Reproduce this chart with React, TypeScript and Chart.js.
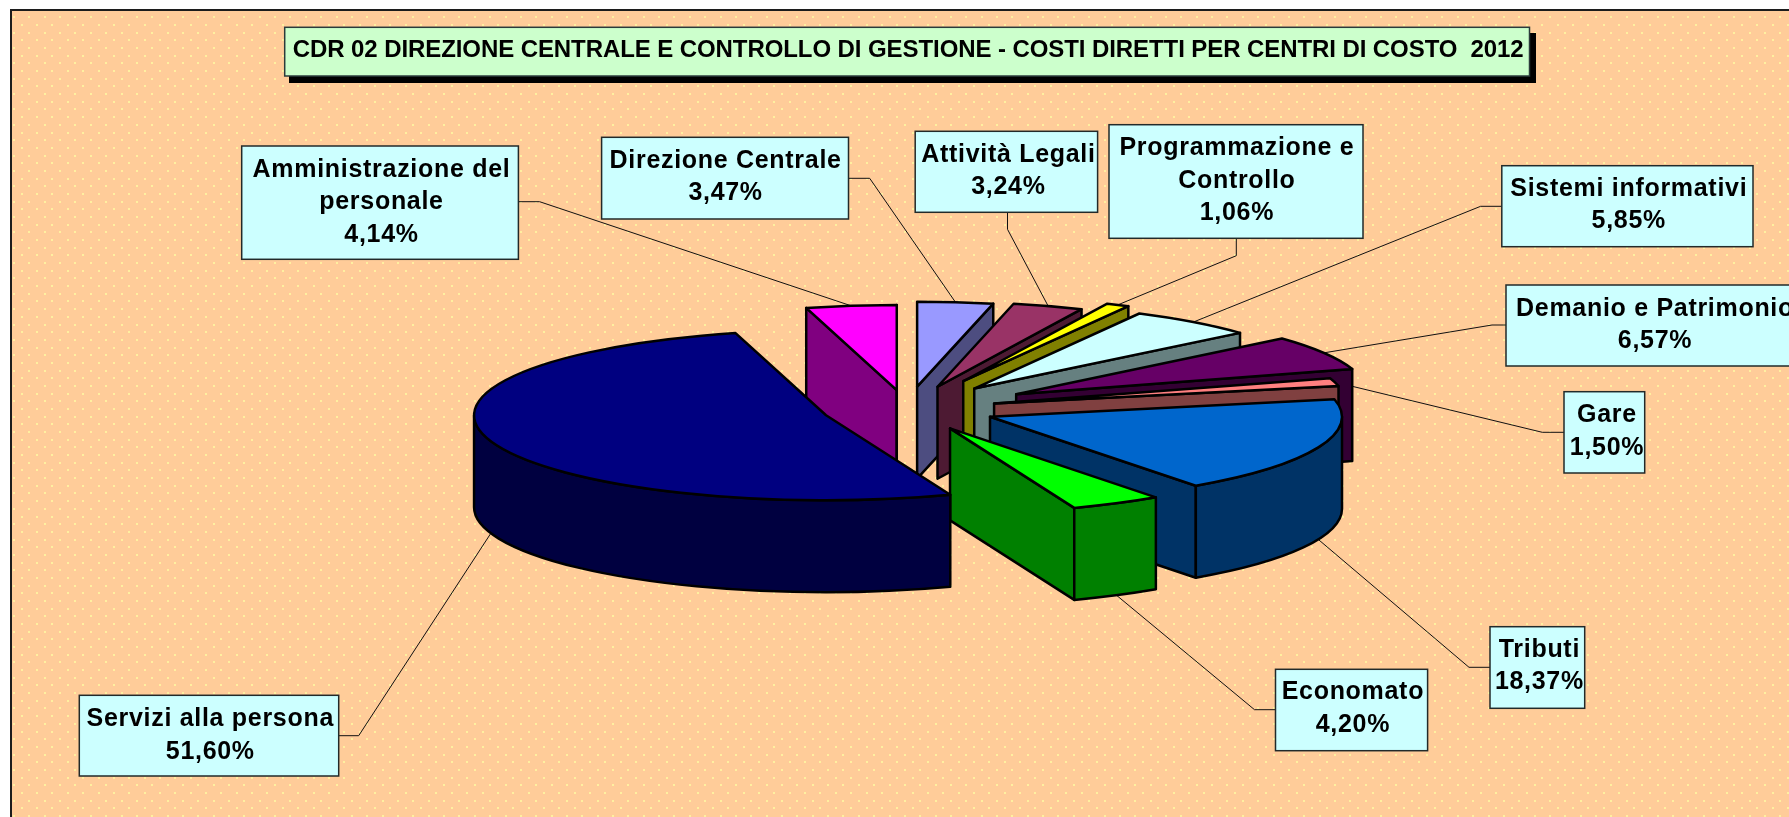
import React, { useEffect, useRef } from "react";
import { Chart, registerables } from "chart.js";

Chart.register(...registerables);

const chartTitle = "CDR 02 DIREZIONE CENTRALE E CONTROLLO DI GESTIONE - COSTI DIRETTI PER CENTRI DI COSTO  2012";
const categories = [
  "Amministrazione del\npersonale",
  "Direzione Centrale",
  "Attività Legali",
  "Programmazione e\nControllo",
  "Sistemi informativi",
  "Demanio e Patrimonio",
  "Gare",
  "Tributi",
  "Economato",
  "Servizi alla persona",
];
const shares = [4.14, 3.47, 3.24, 1.06, 5.85, 6.57, 1.5, 18.37, 4.2, 51.6];
const topColors = ["#FF00FF", "#9999FF", "#993366", "#FFFF00", "#CCFFFF", "#660066", "#FF8080", "#0066CC", "#00FF00", "#000080"];
const wallColors = ["#800080", "#4D4D80", "#4D1A33", "#808000", "#668080", "#330033", "#804040", "#003366", "#008000", "#000040"];
const explode = [79, 93, 97, 128, 108, 125, 90, 89, 91, 85];

const RADIUS = 352;
const TILT = 0.2415;
const DEPTH = 92;
const FONT = 'bold 25px "Liberation Sans", Arial, sans-serif';
const LINE_GAP = 32.6;

// label boxes: left, top, right, bottom, text centre, first baseline, elbow x, elbow y, attach x, attach y
const labelBoxes = [
  { l: 241.7, t: 146, r: 518.4, b: 259.3, cx: 381.5, base: 176.7, ex: 539.6, ey: 201.7, ax: 518.4, ay: 201.7 },
  { l: 601.6, t: 137.3, r: 848.5, b: 219, cx: 725.6, base: 167.7, ex: 869.7, ey: 178.3, ax: 848.5, ay: 178.3 },
  { l: 915.2, t: 131.3, r: 1097.6, b: 212.3, cx: 1008.4, base: 161.7, ex: 1007.5, ey: 229.3, ax: 1007.5, ay: 212.3 },
  { l: 1109, t: 124.7, r: 1363, b: 238.3, cx: 1236.9, base: 155, ex: 1236.3, ey: 255.7, ax: 1236.3, ay: 238.3 },
  { l: 1501.8, t: 165.7, r: 1753, b: 246.7, cx: 1628.8, base: 195.7, ex: 1480.6, ey: 206.3, ax: 1501.8, ay: 206.3 },
  { l: 1506, t: 285, r: 1804, b: 366, cx: 1655, base: 315.7, ex: 1492, ey: 325, ax: 1506, ay: 325 },
  { l: 1564, t: 391.7, r: 1644.7, b: 473, cx: 1607, base: 422.3, ex: 1542.3, ey: 432.3, ax: 1564, ay: 432.3 },
  { l: 1490, t: 626.7, r: 1584.7, b: 708.3, cx: 1539.4, base: 656.7, ex: 1469, ey: 667.3, ax: 1490, ay: 667.3 },
  { l: 1275.5, t: 669.3, r: 1427.6, b: 750.7, cx: 1352.9, base: 699.3, ex: 1254.5, ey: 709.7, ax: 1275.5, ay: 709.7 },
  { l: 79.3, t: 695.3, r: 338.7, b: 776, cx: 210.3, base: 726, ex: 358.7, ey: 735.7, ax: 338.7, ay: 735.7 },
];

const drawBackdrop = (ctx: CanvasRenderingContext2D, w: number, h: number) => {
  ctx.save();
  ctx.fillStyle = "#FFFFFF";
  ctx.fillRect(0, 0, w, h);
  ctx.fillStyle = "#FFCC99";
  ctx.fillRect(10, 9, w - 10, h - 9);
  ctx.fillStyle = "#FFF0A0";
  let row = 0;
  for (let y = 17.3 - 7.68; y < h; y += 7.68) {
    const shift = row % 2 === 0 ? 21.7 : 14;
    for (let x = shift; x < w; x += 15.36) {
      if (y > 11) ctx.fillRect(Math.round(x) - 1, Math.round(y) - 1, 2, 2);
    }
    row++;
  }
  ctx.fillStyle = "#1c1c1c";
  ctx.fillRect(10, 9, w - 10, 2);
  ctx.fillRect(10, 9, 2, h - 9);
  ctx.restore();
};

const pie3d = {
  id: "pie3d",
  beforeDraw(chart: any) {
    drawBackdrop(chart.ctx, chart.width, chart.height);
  },
  beforeDatasetsDraw(chart: any) {
    const ctx: CanvasRenderingContext2D = chart.ctx;
    const arcs = chart.getDatasetMeta(0).data;

    // leader lines run behind the slices
    ctx.save();
    ctx.strokeStyle = "#111111";
    ctx.lineWidth = 1;
    arcs.forEach((arc: any, i: number) => {
      const mid = (arc.startAngle + arc.endAngle) / 2;
      const ox = arc.x + Math.cos(mid) * explode[i];
      const oy = arc.y + TILT * Math.sin(mid) * explode[i];
      const px = ox + arc.outerRadius * Math.cos(mid);
      let py = oy + arc.outerRadius * TILT * Math.sin(mid);
      if (Math.sin(mid) > 0) py += DEPTH;
      const box = labelBoxes[i];
      ctx.beginPath();
      ctx.moveTo(box.ax, box.ay);
      ctx.lineTo(box.ex, box.ey);
      ctx.lineTo(px, py);
      ctx.stroke();
    });
    ctx.restore();

    arcs.forEach((arc: any, i: number) => {
      const mid = (arc.startAngle + arc.endAngle) / 2;
      const e = explode[i];
      const R = arc.outerRadius;
      const Ry = R * TILT;
      const ox = arc.x + Math.cos(mid) * e;
      const oy = arc.y + TILT * Math.sin(mid) * e;
      const a0 = arc.startAngle;
      const a1 = arc.endAngle;
      ctx.save();
      ctx.lineWidth = 2.5;
      ctx.strokeStyle = "#000000";
      ctx.lineJoin = "round";
      ctx.fillStyle = wallColors[i];

      const radialWall = (a: number) => {
        ctx.beginPath();
        ctx.moveTo(ox, oy);
        ctx.lineTo(ox + R * Math.cos(a), oy + Ry * Math.sin(a));
        ctx.lineTo(ox + R * Math.cos(a), oy + Ry * Math.sin(a) + DEPTH);
        ctx.lineTo(ox, oy + DEPTH);
        ctx.closePath();
        ctx.fill();
        ctx.stroke();
      };
      if (Math.cos(a0) < 0) radialWall(a0);
      if (Math.cos(a1) > 0) radialWall(a1);

      const r0 = Math.max(a0, 0);
      const r1 = Math.min(a1, Math.PI);
      if (r1 > r0) {
        ctx.beginPath();
        ctx.ellipse(ox, oy, R, Ry, 0, r0, r1);
        ctx.ellipse(ox, oy + DEPTH, R, Ry, 0, r1, r0, true);
        ctx.closePath();
        ctx.fill();
        ctx.stroke();
      }

      // top face through the library's own arc element, squashed by the tilt
      ctx.save();
      ctx.translate(arc.x, arc.y);
      ctx.scale(1, TILT);
      ctx.translate(-arc.x, -arc.y);
      ctx.translate(Math.cos(mid) * e, Math.sin(mid) * e);
      arc.draw(ctx);
      ctx.restore();

      ctx.beginPath();
      ctx.moveTo(ox, oy);
      ctx.ellipse(ox, oy, R, Ry, 0, a0, a1);
      ctx.closePath();
      ctx.stroke();
      ctx.restore();
    });
    return false;
  },
  afterDraw(chart: any) {
    const ctx: CanvasRenderingContext2D = chart.ctx;
    ctx.save();
    // title box
    ctx.fillStyle = "#000000";
    ctx.fillRect(289, 33, 1247, 50);
    ctx.fillStyle = "#CCFFCC";
    ctx.fillRect(284.7, 27.3, 1244.8, 48.7);
    ctx.strokeStyle = "#2b3b3b";
    ctx.lineWidth = 1.5;
    ctx.strokeRect(284.7, 27.3, 1244.8, 48.7);
    ctx.font = 'bold 24px "Liberation Sans", Arial, sans-serif';
    ctx.fillStyle = "#000000";
    ctx.textAlign = "left";
    ctx.textBaseline = "alphabetic";
    (ctx as any).letterSpacing = "0px";
    const natural = ctx.measureText(chartTitle).width;
    (ctx as any).letterSpacing = ((1231 - natural) / (chartTitle.length - 1)).toFixed(3) + "px";
    ctx.fillText(chartTitle, 292.7, 56.7);

    // data labels
    ctx.font = FONT;
    ctx.textAlign = "center";
    (ctx as any).letterSpacing = "0.7px";
    categories.forEach((name, i) => {
      const box = labelBoxes[i];
      ctx.fillStyle = "#CCFFFF";
      ctx.fillRect(box.l, box.t, box.r - box.l, box.b - box.t);
      ctx.strokeStyle = "#222a2a";
      ctx.lineWidth = 1.5;
      ctx.strokeRect(box.l, box.t, box.r - box.l, box.b - box.t);
      ctx.fillStyle = "#000000";
      const lines = [...name.split("\n"), shares[i].toFixed(2).replace(".", ",") + "%"];
      lines.forEach((line, k) => ctx.fillText(line, box.cx, box.base + k * LINE_GAP));
    });
    ctx.restore();
  },
};

export default function App() {
  const ref = useRef<HTMLCanvasElement | null>(null);
  useEffect(() => {
    document.body.style.margin = "0";
    document.body.style.overflow = "hidden";
    const chart = new Chart(ref.current as HTMLCanvasElement, {
      type: "pie",
      data: {
        labels: categories.map((c) => c.replace("\n", " ")),
        datasets: [
          {
            data: shares,
            backgroundColor: topColors,
            borderWidth: 0,
            radius: RADIUS,
          } as any,
        ],
      },
      options: {
        responsive: false,
        animation: false,
        rotation: -14.904,
        layout: { padding: { left: 25, top: 1 } },
        plugins: { legend: { display: false }, tooltip: { enabled: false }, title: { display: false } },
      },
      plugins: [pie3d],
    } as any);
    return () => chart.destroy();
  }, []);
  return <canvas ref={ref} width={1789} height={817} style={{ display: "block", width: 1789, height: 817 }} />;
}
